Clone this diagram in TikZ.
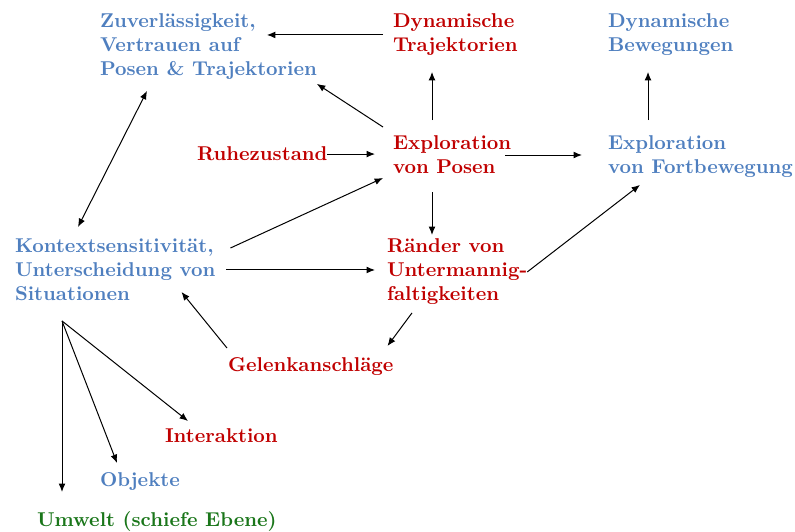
\documentclass[tikz,border=0pt]{standalone}
\usetikzlibrary{arrows.meta,calc}
\definecolor{cblue}{RGB}{79,127,191}
\definecolor{cred}{RGB}{192,0,0}
\definecolor{cgreen}{RGB}{26,118,26}
\begin{document}
\begin{tikzpicture}[x=0.5pt,y=-0.5pt,
  lbl/.style={font=\bfseries,align=left,inner sep=0pt,outer sep=0pt,anchor=north west},
  blu/.style={lbl,text=cblue},
  rd/.style={lbl,text=cred},
  grn/.style={lbl,text=cgreen},
  arr/.style={line width=0.5pt,-{Latex[length=4.2pt,width=3.4pt]}},
  darr/.style={line width=0.5pt,{Latex[length=4.2pt,width=3.4pt]}-{Latex[length=4.2pt,width=3.4pt]}}]
\useasboundingbox (0,0) rectangle (795,531);

% labels
\node[blu] (zuv)   at (100,14)  {Zuverlässigkeit,\\Vertrauen auf\\Posen \& Trajektorien};
\node[rd]  (traj)  at (393,14)  {Dynamische\\Trajektorien};
\node[blu] (bew)   at (608,14)  {Dynamische\\Bewegungen};
\node[rd]  (ruhe)  at (197,147) {Ruhezustand};
\node[rd]  (expl)  at (393,136) {Exploration\\von Posen};
\node[blu] (fort)  at (608,136) {Exploration\\von Fortbewegung};
\node[blu] (kont)  at (15,239)  {Kontextsensitivität,\\Unterscheidung von\\Situationen};
\node[rd]  (rand)  at (387,239) {Ränder von\\Untermannig-\\faltigkeiten};
\node[rd]  (gel)   at (228,358) {Gelenkanschläge};
\node[rd]  (inter) at (165,429) {Interaktion};
\node[blu] (obj)   at (100,473) {Objekte};
\node[grn] (umw)   at (37,511)  {Umwelt (schiefe Ebene)};

% attachment points for the straight connectors
\coordinate (hub)   at ($(kont.south west)+(47,20)$);
\coordinate (trajW) at ($(traj.west)+(-10,0)$);
\coordinate (zuvE)  at ($(zuv.east)+(-50,0)$);
\coordinate (explW) at ($(expl.west)+(-18,0)$);
\coordinate (explS) at ($(expl.south west)+(39,18)$);
\coordinate (randN) at ($(rand.north)+(0,-4)$);
\coordinate (explE) at ($(expl.east)+(-6,0)$);
\coordinate (fortW) at ($(fort.west)+(-26,0)$);
\coordinate (kontE) at ($(kont.east)+(11,0)$);
\coordinate (randW) at ($(rand.west)+(-12,0)$);
\coordinate (umwN)  at ($(umw.north west)+(25,-19)$);

% connectors
\draw[arr] (trajW) -- (trajW -| zuvE);
\draw[arr] ($(expl.north west)+(-10,-9)$) -- ($(zuv.south east)+(0,4)$);
\draw[arr] (ruhe.east) -- (explW |- ruhe.east);
\draw[arr] ($(kont.north east)+(15,9)$) -- ($(expl.south west)+(-10,4)$);
\draw[arr] ($(expl.north west)+(39,-16)$) -- ($(traj.south west)+(39,16)$);
\draw[arr] (explS) -- (explS |- randN);
\draw[arr] (explE) -- (fortW |- explE);
\draw[arr] ($(fort.north west)+(40,-16)$) -- ($(bew.south west)+(40,16)$);
\draw[arr] (rand.east) -- ($(fort.south west)+(32,7)$);
\draw[darr] ($(kont.north west)+(63,-12)$) -- ($(zuv.south west)+(47,11)$);
\draw[arr] (kontE) -- (randW |- kontE);
\draw[arr] ($(gel.north west)+(-1,-10)$) -- ($(kont.south east)+(-34,-9)$);
\draw[arr] ($(rand.south west)+(25,8)$) -- ($(gel.north east)+(-6,-12)$);
\draw[arr] (hub) -- (umwN -| hub);
\draw[arr] (hub) -- ($(obj.north west)+(17,-10)$);
\draw[arr] (hub) -- ($(inter.north west)+(23,-8)$);
\end{tikzpicture}
\end{document}
